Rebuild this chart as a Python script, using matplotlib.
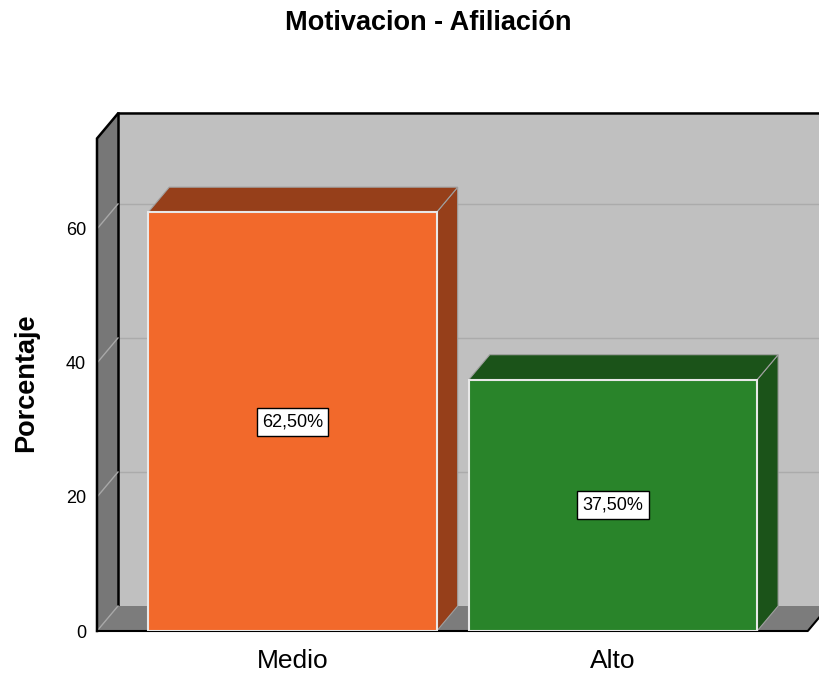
"""
Motivacion - Afiliacion: 3D style bar chart (SPSS look) rebuilt with matplotlib.
"""

import matplotlib
matplotlib.use("Agg")
import matplotlib.pyplot as plt
from matplotlib.patches import Polygon


# Chart data
CATEGORIES = ["Medio", "Alto"]
PERCENTAGES = [62.5, 37.5]
BAR_LABELS = ["62,50%", "37,50%"]
Y_TICKS = [0, 20, 40, 60]

TITLE = "Motivacion - Afiliación"
Y_LABEL = "Porcentaje"

FRONT_COLORS = ["#F2692B", "#29842A"]
SHADE_COLORS = ["#963F1A", "#1B5319"]

# Box geometry (data units)
WALL_TOP = 73.5
X_MIN, X_MAX = -0.61, 1.643
Y_MAX = 77.3
DX, DY = 0.0655, 3.73
BAR_WIDTH = 0.9
FLOOR_RIGHT = 1.608


def draw_box(ax):
    """Left wall, back wall, floor, gridlines and the black frame edges."""
    left_wall = Polygon(
        [(X_MIN, 0), (X_MIN, WALL_TOP), (X_MIN + DX, WALL_TOP + DY), (X_MIN + DX, DY)],
        facecolor="#777777", edgecolor="none", zorder=0, clip_on=False,
    )
    back_wall = Polygon(
        [(X_MIN + DX, DY), (X_MIN + DX, WALL_TOP + DY),
         (FLOOR_RIGHT + DX, WALL_TOP + DY), (FLOOR_RIGHT + DX, DY)],
        facecolor="#C0C0C0", edgecolor="none", zorder=0, clip_on=False,
    )
    floor = Polygon(
        [(X_MIN, 0), (FLOOR_RIGHT, 0), (FLOOR_RIGHT + DX, DY), (X_MIN + DX, DY)],
        facecolor="#7C7C7C", edgecolor="none", zorder=1, clip_on=False,
    )
    for patch in (left_wall, back_wall, floor):
        ax.add_patch(patch)

    for t in Y_TICKS:
        ax.plot([X_MIN, X_MIN + DX], [t, t + DY], color="#A8A8A8", lw=1,
                zorder=1.5, clip_on=False)
        if t > 0:
            ax.plot([X_MIN + DX, FLOOR_RIGHT + DX], [t + DY, t + DY],
                    color="#ABABAB", lw=1, zorder=0.5, clip_on=False)

    # black frame
    ax.plot([X_MIN, X_MIN, X_MIN + DX, FLOOR_RIGHT + DX + 0.05],
            [0, WALL_TOP, WALL_TOP + DY, WALL_TOP + DY],
            color="black", lw=1.8, zorder=2, clip_on=False, solid_joinstyle="miter")
    ax.plot([X_MIN + DX, X_MIN + DX], [DY, WALL_TOP + DY],
            color="black", lw=1.8, zorder=0.8, clip_on=False)
    ax.plot([X_MIN, FLOOR_RIGHT, FLOOR_RIGHT + DX], [0, 0, DY],
            color="black", lw=1.5, zorder=2, clip_on=False)


def draw_bars(ax):
    for i, (value, front, shade, label) in enumerate(
            zip(PERCENTAGES, FRONT_COLORS, SHADE_COLORS, BAR_LABELS)):
        x0 = i - BAR_WIDTH / 2
        x1 = i + BAR_WIDTH / 2
        side = Polygon(
            [(x1, 0), (x1 + DX, DY), (x1 + DX, value + DY), (x1, value)],
            facecolor=shade, edgecolor="#A0A0A0", lw=0.8, zorder=3,
        )
        top = Polygon(
            [(x0, value), (x0 + DX, value + DY), (x1 + DX, value + DY), (x1, value)],
            facecolor=shade, edgecolor="#A0A0A0", lw=0.8, zorder=3,
        )
        ax.add_patch(side)
        ax.add_patch(top)
        ax.bar(i, value, width=BAR_WIDTH, color=front, edgecolor="#E8E8E8",
               lw=1.5, zorder=4)
        ax.text(i, value / 2, label, ha="center", va="center", fontsize=13,
                zorder=5,
                bbox=dict(boxstyle="square,pad=0.3", facecolor="white",
                          edgecolor="black", lw=1))


def main() -> None:
    plt.rcParams["font.family"] = ["Liberation Sans", "DejaVu Sans"]

    fig = plt.figure(figsize=(8.19, 6.77), dpi=100)
    ax = fig.add_axes([97 / 819, 1 - 631 / 677, (819 - 97) / 819, (631 - 113) / 677])
    ax.set_xlim(X_MIN, X_MAX)
    ax.set_ylim(0, Y_MAX)
    ax.patch.set_visible(False)
    for spine in ax.spines.values():
        spine.set_visible(False)

    draw_box(ax)
    draw_bars(ax)

    ax.set_yticks(Y_TICKS)
    ax.tick_params(axis="y", length=0, pad=8, labelsize=13)
    ax.set_xticks(range(len(CATEGORIES)), CATEGORIES)
    ax.tick_params(axis="x", length=0, pad=13, labelsize=19)

    fig.text(428 / 819, 1 - 23 / 677, TITLE, ha="center", va="center",
             fontsize=19.5, fontweight="bold")
    fig.text(26 / 819, 1 - 383 / 677, Y_LABEL, ha="center", va="center",
             rotation=90, fontsize=19.5, fontweight="bold")

    fig.savefig("out.png", dpi=100)
    plt.close(fig)


if __name__ == "__main__":
    main()
